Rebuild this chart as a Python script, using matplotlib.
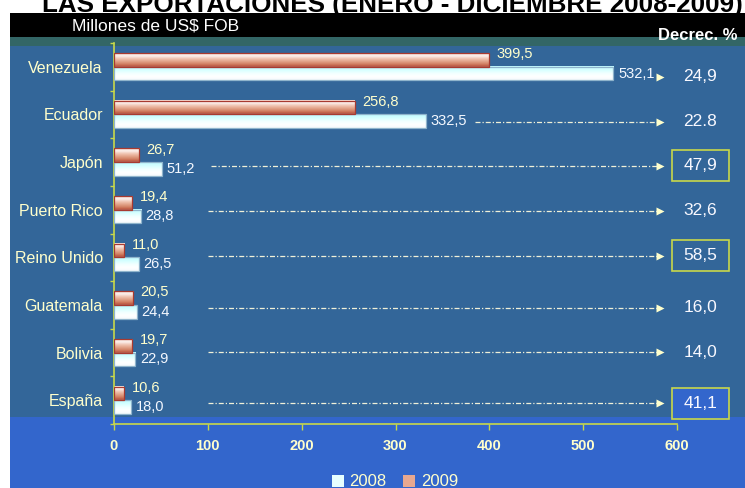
import numpy as np
import matplotlib
matplotlib.use('Agg')
import matplotlib.pyplot as plt
from matplotlib.patches import Rectangle
from matplotlib.colors import LinearSegmentedColormap

plt.rcParams['font.family'] = ['Liberation Sans', 'DejaVu Sans']

paises = ['Venezuela', 'Ecuador', 'Japón', 'Puerto Rico', 'Reino Unido',
          'Guatemala', 'Bolivia', 'España']
exp_2008 = [532.1, 332.5, 51.2, 28.8, 26.5, 24.4, 22.9, 18.0]
exp_2009 = [399.5, 256.8, 26.7, 19.4, 11.0, 20.5, 19.7, 10.6]
decrec = ['24,9', '22.8', '47,9', '32,6', '58,5', '16,0', '14,0', '41,1']
destacados = [2, 4, 7]

titulo = 'LAS EXPORTACIONES (ENERO - DICIEMBRE 2008-2009)'

W, H = 745, 488
fig = plt.figure(figsize=(W / 100, H / 100), dpi=100)
fig.patch.set_facecolor('white')


def franja(x0, y0, x1, y1, color):
    # rectangulo de fondo en pixeles (origen arriba a la izquierda)
    fig.add_artist(Rectangle((x0 / W, 1 - y1 / H), (x1 - x0) / W, (y1 - y0) / H,
                             transform=fig.transFigure, facecolor=color,
                             edgecolor='none', zorder=-10))


franja(10, 13, W, 38, 'black')
franja(10, 37, W, 47, '#336666')
franja(10, 46, W, 417, '#336699')
franja(10, 417, W, H, '#3366cc')

fig.text(392 / W, 1 - 12 / H, titulo, ha='center', va='baseline',
         fontsize=18.7, fontweight='bold', color='black')
fig.text(72 / W, 1 - 26 / H, 'Millones de US$ FOB', ha='left', va='center',
         fontsize=12.5, color='white')
fig.text(737 / W, 1 - 40 / H, 'Decrec. %', ha='right', va='baseline',
         fontsize=12, fontweight='bold', color='white')

ax = fig.add_axes([114 / W, 1 - 424 / H, (677 - 114) / W, (424 - 43) / H])
ax.patch.set_visible(False)

eje = '#c8d84a'
n = len(paises)
y = np.arange(n)
h = 0.285

b08 = ax.barh(y + h / 2, exp_2008, height=h, color='#e6ffff', edgecolor='none', zorder=2)
b09 = ax.barh(y - h / 2, exp_2009, height=h, color='#e8a890', edgecolor='none', zorder=2)

# degradado dentro de cada barra
grad_09 = LinearSegmentedColormap.from_list(
    'g09', ['#f6dcd2', '#fcf0ec', '#f0c4b2', '#e2a288', '#d07e62', '#b84c38'])
grad_08 = LinearSegmentedColormap.from_list(
    'g08', ['#c0faff', '#d4ffff', '#f0ffff', '#ffffff', '#f4fafc'])
col = np.linspace(0, 1, 64).reshape(-1, 1)
for barras, cmap in ((b08, grad_08), (b09, grad_09)):
    for r in barras:
        x0, y0, w, hh = r.get_x(), r.get_y(), r.get_width(), r.get_height()
        ax.imshow(col, cmap=cmap, extent=(x0, x0 + w, y0 + hh, y0),
                  aspect='auto', interpolation='bilinear', zorder=2.5)

ax.barh(y + h / 2, exp_2008, height=h, facecolor='none', edgecolor='#8fb4cc',
        linewidth=0.9, zorder=3)
ax.barh(y - h / 2, exp_2009, height=h, facecolor='none', edgecolor='#a83a30',
        linewidth=0.9, zorder=3)


def fmt(v):
    return f'{v:.1f}'.replace('.', ',')


for i in range(n):
    ax.text(exp_2009[i] + 8, y[i] - h / 2 - 0.12, fmt(exp_2009[i]),
            color='#ffffcc', fontsize=10.5, ha='left', va='center', zorder=5)
    ax.text(exp_2008[i] + 5, y[i] + h / 2, fmt(exp_2008[i]),
            color='#f4f8ff', fontsize=10.5, ha='left', va='center', zorder=5)

# flechas hacia el porcentaje de decrecimiento
punta = 586
flecha_dy = [0.21, 0.155, 0.08, 0.025, -0.03, 0.06, -0.01, 0.06]
for i in range(n):
    yy = y[i] + flecha_dy[i]
    x0 = max(100, exp_2008[i] + 52)
    if x0 < punta - 8:
        ax.plot([x0, punta - 4], [yy, yy], color='#f0f0d8', lw=0.9,
                dashes=(4, 1.6, 1, 1.6), zorder=4)
    ax.plot(punta - 4.4, yy, marker='>', ms=6, color='#ffffcc', mec='none',
            zorder=4, clip_on=False)
    ax.text(625, yy, decrec[i], ha='center', va='center', fontsize=12.5,
            color='#f8f8ff', zorder=6, clip_on=False)
    if i in destacados:
        fondo = '#3366cc' if i == n - 1 else 'none'
        ax.add_patch(Rectangle((625 - 30.4, yy - 0.325), 60.8, 0.65,
                               facecolor=fondo, edgecolor=eje, lw=1.2,
                               zorder=5, clip_on=False))

ax.set_xlim(0, 600)
ax.set_ylim(n - 0.5, -0.5)
ax.set_xticks(range(0, 601, 100))
ax.set_yticks(y)
ax.set_yticklabels(paises)
ax.set_yticks(np.arange(-0.5, n), minor=True)
ax.tick_params(axis='y', which='major', length=0, pad=8, labelcolor='#ffffcc',
               labelsize=11.5)
ax.tick_params(axis='y', which='minor', length=3, color=eje, width=1)
ax.tick_params(axis='x', length=4.5, color=eje, width=1, pad=6,
               labelcolor='#ffffcc', labelsize=10.5)
for lab in ax.get_xticklabels():
    lab.set_fontweight('bold')
for s in ('top', 'right'):
    ax.spines[s].set_visible(False)
for s in ('left', 'bottom'):
    ax.spines[s].set_color(eje)
    ax.spines[s].set_linewidth(1.2)

fig.legend([b08, b09], ['2008', '2009'], loc='center',
           bbox_to_anchor=(395 / W, 1 - 482 / H), ncol=2, frameon=False,
           fontsize=12, handlelength=0.7, handleheight=0.7,
           handletextpad=0.35, columnspacing=1.0, labelcolor='#ffffcc')

fig.savefig('out.png', dpi=100)
